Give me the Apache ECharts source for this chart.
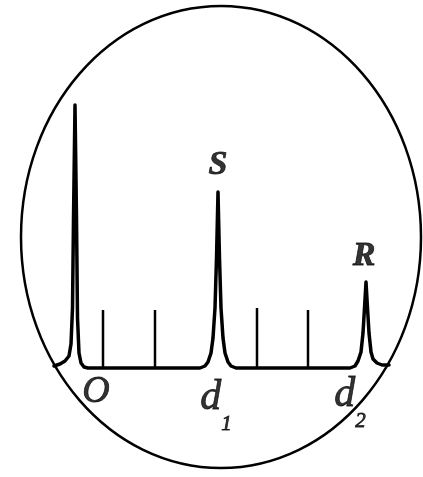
<!DOCTYPE html>
<html>
<head>
<meta charset="utf-8">
<script src="https://cdn.jsdelivr.net/npm/echarts@6/dist/echarts.min.js"></script>
<style>
  html, body { margin: 0; padding: 0; background: #fff; }
  #main { width: 423px; height: 477px; }
</style>
</head>
<body>
<div id="main"></div>
<script>
// trace on the screen: [position, height above the baseline]
const transmitPulse = [
  [54, 2], [60, 4], [65, 7], [69, 12], [71, 24], [72.5, 60], [73.5, 150], [75, 263],
  [76.5, 150], [77.5, 50], [79, 15], [81, 5], [84, 1], [88, 0]
]
const echoS = [
  [200, 0], [205, 2], [208, 6], [211, 15], [213, 30], [215, 60], [216.5, 110], [218, 176],
  [219.5, 110], [221, 60], [223, 30], [225, 15], [228, 6], [231, 2], [236, 0]
]
const echoR = [
  [350, 0], [355, 2], [358, 7], [361, 16], [363, 35], [364.5, 60], [366, 86],
  [367.5, 60], [369, 35], [371, 16], [373, 9], [377, 5], [382, 3], [389, 3]
]
// scale marks
const tickX = [103, 155, 257, 308]
const tickHeight = [58, 58, 60, 58]
// letters
const labelText = ['S', 'R', '{o|O}', '{a|d}{b|1}', '{a|d}{b|2}']
const labelX = [218, 364, 96, 216, 350]
const labelY = [203, 112, -24, -38, -35]
// screen outline: centre and half axes
const screenCentre = [221, 131]
const screenRadius = [200, 231]

const trace = transmitPulse.concat(echoS, echoR)

const myChart = echarts.init(document.getElementById('main'))

const tickSeries = tickX.map(function (x, i) {
  return {
    type: 'line',
    data: [[x, 0], [x, tickHeight[i]]],
    symbol: 'none',
    lineStyle: { color: '#000', width: 2.5 },
    z: 3,
    silent: true
  }
})

const letter = {
  fontFamily: 'Liberation Serif',
  fontStyle: 'italic',
  fontWeight: 'bold',
  color: '#000',
  textBorderColor: '#000',
  textBorderWidth: 0.8
}

const option = {
  backgroundColor: '#fff',
  animation: false,
  grid: { left: 0, right: 0, top: 0, bottom: 0 },
  xAxis: { type: 'value', min: 0, max: 423, show: false },
  yAxis: { type: 'value', min: -109, max: 368, show: false },
  series: [
    {
      type: 'line',
      data: trace,
      symbol: 'none',
      lineStyle: { color: '#000', width: 3.5, join: 'round', cap: 'round' },
      z: 4,
      silent: true
    }
  ].concat(tickSeries, [
    {
      type: 'scatter',
      symbolSize: 0,
      data: labelText.map(function (t, i) { return { value: [labelX[i], labelY[i]], name: t } }),
      label: Object.assign({
        show: true,
        position: 'inside',
        formatter: function (p) { return p.name },
        fontSize: 34,
        rich: {
          o: Object.assign({}, letter, { fontWeight: 'normal', fontSize: 38, lineHeight: 40 }),
          a: Object.assign({}, letter, { fontWeight: 'normal', fontSize: 42, lineHeight: 42, verticalAlign: 'top' }),
          b: Object.assign({}, letter, { fontWeight: 'normal', fontSize: 21, lineHeight: 58, verticalAlign: 'bottom' })
        }
      }, letter),
      z: 5
    }
  ])
}

myChart.setOption(option)

// draw the screen outline from the data coordinates
const c = myChart.convertToPixel({ gridIndex: 0 }, screenCentre)
const e = myChart.convertToPixel({ gridIndex: 0 }, [screenCentre[0] + screenRadius[0], screenCentre[1] + screenRadius[1]])
myChart.setOption({
  graphic: [{
    type: 'ellipse',
    shape: { cx: c[0], cy: c[1], rx: e[0] - c[0], ry: c[1] - e[1] },
    style: { fill: 'none', stroke: '#000', lineWidth: 2.5 },
    z: 1,
    silent: true
  }]
})
</script>
</body>
</html>
